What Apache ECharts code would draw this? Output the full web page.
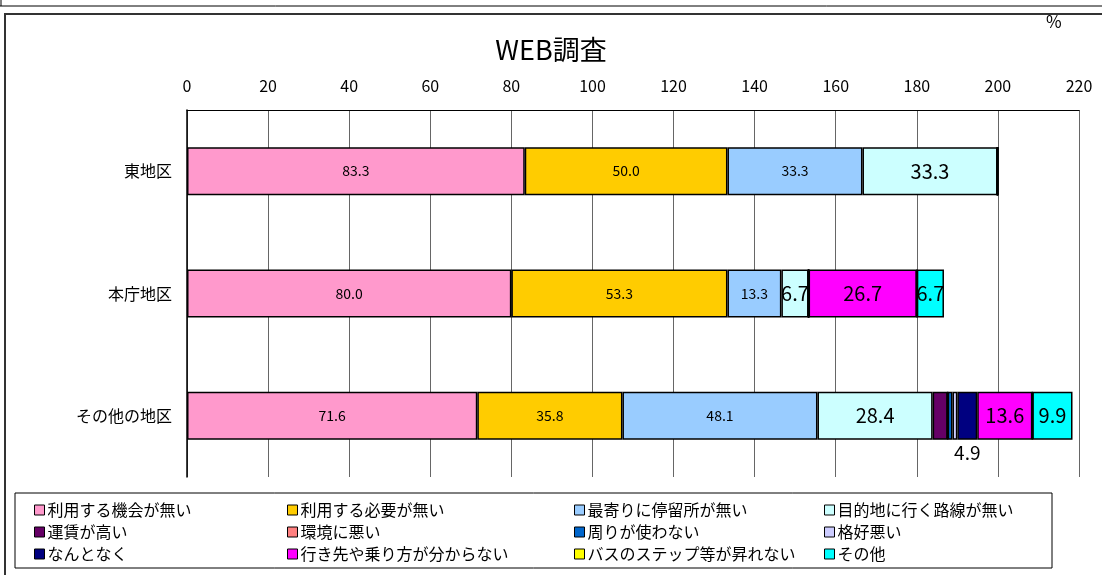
<!DOCTYPE html>
<html>
<head>
<meta charset="utf-8">
<title>WEB調査</title>
<script src="https://cdn.jsdelivr.net/npm/echarts@6/dist/echarts.min.js"></script>
<style>
  html, body { margin: 0; padding: 0; background: #fff; }
  #chart { width: 1102px; height: 575px; }
</style>
</head>
<body>
<div id="chart"></div>
<script>
// 地区
const categories = ["東地区", "本庁地区", "その他の地区"];
const tickValues = [0, 20, 40, 60, 80, 100, 120, 140, 160, 180, 200, 220];

// 理由ごとの値 (%)  東地区, 本庁地区, その他の地区
const noChance   = [83.3, 80.0, 71.6];
const noNeed     = [50.0, 53.3, 35.8];
const noStop     = [33.3, 13.3, 48.1];
const noRoute    = [33.3, 6.7, 28.4];
const fareHigh   = [0, 0, 3.7];
const badEnv     = [0, 0, 0];
const othersDont = [0, 0, 1.2];
const uncool     = [0, 0, 1.2];
const noReason   = [0, 0, 4.9];
const dontKnow   = [0, 26.7, 13.6];
const cantStep   = [0, 0, 0];
const other      = [0, 6.7, 9.9];

const seriesDefs = [
  { name: "利用する機会が無い", data: noChance, color: "#FF99CC", size: 14 },
  { name: "利用する必要が無い", data: noNeed, color: "#FFCC00", size: 14 },
  { name: "最寄りに停留所が無い", data: noStop, color: "#99CCFF", size: 14 },
  { name: "目的地に行く路線が無い", data: noRoute, color: "#CCFFFF", size: 20 },
  { name: "運賃が高い", data: fareHigh, color: "#660066", size: 0 },
  { name: "環境に悪い", data: badEnv, color: "#FF8080", size: 0 },
  { name: "周りが使わない", data: othersDont, color: "#0066CC", size: 0 },
  { name: "格好悪い", data: uncool, color: "#CCCCFF", size: 0 },
  { name: "なんとなく", data: noReason, color: "#000080", size: 19, pos: "bottom" },
  { name: "行き先や乗り方が分からない", data: dontKnow, color: "#FF00FF", size: 20 },
  { name: "バスのステップ等が昇れない", data: cantStep, color: "#FFFF00", size: 0 },
  { name: "その他", data: other, color: "#00FFFF", size: 20 }
];

const font = '"Noto Sans CJK JP", "Noto Sans", sans-serif';

const chart = echarts.init(document.getElementById("chart"));

const series = seriesDefs.map(s => ({
  name: s.name,
  type: "bar",
  stack: "total",
  barWidth: 48,
  data: s.data,
  itemStyle: { color: s.color, borderColor: "#000", borderWidth: 1.5 },
  label: {
    show: s.size > 0,
    position: s.pos || "inside",
    distance: 3,
    color: "#000",
    fontFamily: font,
    fontSize: s.size || 12,
    formatter: p => (p.value > 0 ? p.value.toFixed(1) : "")
  }
}));

// 凡例は4列
const legendCols = [[0, 4, 8], [1, 5, 9], [2, 6, 10], [3, 7, 11]];
const legendLeft = [29, 282, 569, 819];
const legends = legendCols.map((col, i) => ({
  orient: "vertical",
  left: legendLeft[i],
  top: 497,
  itemGap: 6,
  itemWidth: 10,
  itemHeight: 10,
  icon: "rect",
  selectedMode: false,
  itemStyle: { borderColor: "#000", borderWidth: 1 },
  textStyle: { fontFamily: font, fontSize: 16, color: "#000", padding: [0, 0, 0, -2] },
  data: col.map(k => seriesDefs[k].name)
}));

chart.setOption({
  animation: false,
  textStyle: { fontFamily: font },
  title: {
    text: "WEB調査",
    left: "center",
    top: 31,
    textStyle: { fontFamily: font, fontSize: 27, fontWeight: "normal", color: "#000" }
  },
  graphic: [
    // 上のグラフの枠
    { type: "line", shape: { x1: 0, y1: 6, x2: 1102, y2: 6 }, style: { stroke: "#000", lineWidth: 1 } },
    { type: "line", shape: { x1: 1, y1: 0, x2: 1, y2: 6 }, style: { stroke: "#000", lineWidth: 1 } },
    // グラフ枠
    { type: "rect", shape: { x: 5, y: 14, width: 1110, height: 580 }, style: { fill: "none", stroke: "#333", lineWidth: 2 } },
    // 凡例枠
    { type: "rect", shape: { x: 15, y: 493, width: 1037, height: 75 }, style: { fill: "none", stroke: "#000", lineWidth: 1 } },
    { type: "text", left: 1046, top: 13, style: { text: "%", fontFamily: font, fontSize: 17, fill: "#000" } }
  ],
  legend: legends,
  grid: { left: 187, right: 23, top: 110, bottom: 98 },
  xAxis: {
    type: "value",
    position: "top",
    min: 0,
    max: 220,
    interval: 20,
    axisLine: { show: true, lineStyle: { color: "#000", width: 1 } },
    axisTick: { show: false },
    axisLabel: {
      fontFamily: font,
      fontSize: 16,
      color: "#000",
      margin: 16,
      customValues: tickValues
    },
    splitLine: { show: true, lineStyle: { color: "#666", width: 1 } }
  },
  yAxis: {
    type: "category",
    inverse: true,
    data: categories,
    axisLine: { show: true, lineStyle: { color: "#000", width: 1.5 } },
    axisTick: { show: false },
    axisLabel: { fontFamily: font, fontSize: 16, color: "#000", margin: 15 }
  },
  series: series
});
</script>
</body>
</html>
